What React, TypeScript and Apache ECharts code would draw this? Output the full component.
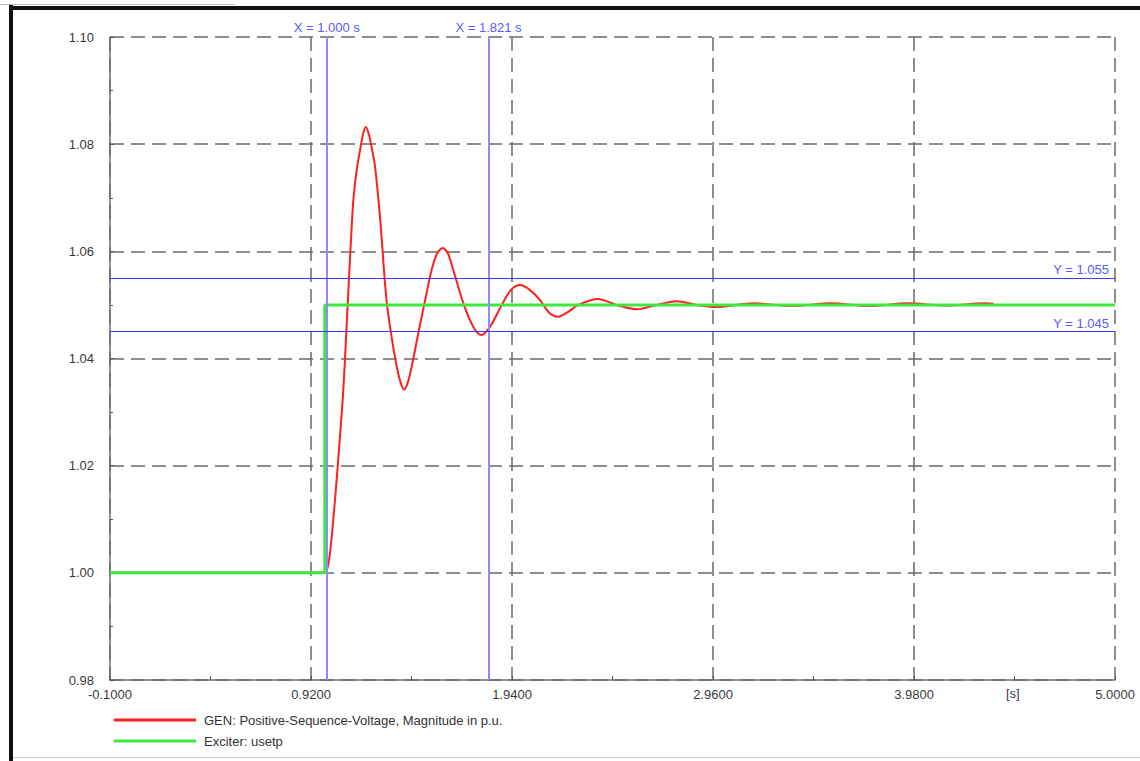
import React, { useEffect, useRef } from "react";
import * as echarts from "echarts";

// Time axis (s) and values (p.u.)
const xMin = -0.1;
const xMax = 5.0;
const xStep = 1.02;
const yMin = 0.98;
const yMax = 1.1;
const yStep = 0.02;

const redName = "GEN: Positive-Sequence-Voltage, Magnitude in p.u.";
const greenName = "Exciter: usetp";

const redT = [
  -0.1, 0.995, 1.0, 1.016, 1.033, 1.05, 1.067, 1.084, 1.098, 1.106, 1.12, 1.135, 1.152, 1.169,
  1.185, 1.199, 1.215, 1.23, 1.245, 1.27, 1.303, 1.33, 1.355, 1.375, 1.393, 1.411, 1.431,
  1.465, 1.497, 1.532, 1.56, 1.588, 1.615, 1.642, 1.696, 1.744, 1.783, 1.828, 1.888, 1.935,
  1.981, 2.03, 2.082, 2.13, 2.175, 2.225, 2.277, 2.375, 2.471, 2.573, 2.674, 2.776, 2.877,
  2.97, 3.17, 3.36, 3.56, 3.75, 3.95, 4.14, 4.34, 4.385,
];
const redV = [
  1.0, 1.0, 1.0003, 1.0036, 1.0099, 1.0173, 1.0254, 1.0341, 1.044, 1.05, 1.0601, 1.0696,
  1.0752, 1.0789, 1.082, 1.0832, 1.0816, 1.079, 1.0758, 1.0665, 1.0509, 1.0438, 1.0385,
  1.0355, 1.0342, 1.0355, 1.0385, 1.0448, 1.0505, 1.0565, 1.0596, 1.0606, 1.0596, 1.0565,
  1.05, 1.0459, 1.0444, 1.0459, 1.05, 1.0528, 1.0537, 1.0528, 1.0509, 1.0485, 1.0478,
  1.0487, 1.05, 1.0511, 1.05, 1.0492, 1.05, 1.0507, 1.05, 1.0496, 1.0503, 1.0498, 1.0503,
  1.0498, 1.0503, 1.0499, 1.0503, 1.0502,
];

const greenT = [-0.1, 0.99, 0.99, 5.0];
const greenV = [1.0, 1.0, 1.05, 1.05];

const cursorX = [1.0, 1.821];
const cursorY = [1.055, 1.045];

const FONT = "Liberation Sans, Arial, sans-serif";

export default function App() {
  const ref = useRef<HTMLDivElement>(null);

  useEffect(() => {
    document.body.style.margin = "0";
    if (!ref.current) return;
    const chart = echarts.init(ref.current, null, { renderer: "svg" });

    const redData = redT.map((t, i) => [t, redV[i]]);
    const greenData = greenT.map((t, i) => [t, greenV[i]]);

    const gridLine = { color: "#6a6a6a", width: 1.5, type: [14, 7] as any };

    const option: any = {
      animation: false,
      backgroundColor: "#ffffff",
      grid: { left: 110, top: 37, right: 25, bottom: 81 },
      xAxis: {
        type: "value",
        min: xMin,
        max: xMax,
        interval: xStep,
        axisLine: { show: true, onZero: false, lineStyle: { color: "#6e6e6e", width: 1.5 } },
        axisTick: { show: true, inside: true, length: 4, lineStyle: { color: "#555" } },
        minorTick: { show: true, splitNumber: 2, length: 4, lineStyle: { color: "#555" } },
        splitLine: { show: true, lineStyle: gridLine },
        axisLabel: {
          color: "#3a3a3a",
          fontFamily: FONT,
          fontSize: 13,
          margin: 8,
          showMinLabel: true,
          showMaxLabel: true,
          formatter: (v: number) => v.toFixed(4),
        },
      },
      yAxis: {
        type: "value",
        min: yMin,
        max: yMax,
        interval: yStep,
        axisLine: { show: true, onZero: false, lineStyle: { color: "#6e6e6e", width: 1.5 } },
        axisTick: { show: true, inside: true, length: 4, lineStyle: { color: "#555" } },
        minorTick: { show: true, splitNumber: 2, length: 3, lineStyle: { color: "#555" } },
        splitLine: { show: true, lineStyle: gridLine },
        axisLabel: {
          color: "#3a3a3a",
          fontFamily: FONT,
          fontSize: 13,
          margin: 16,
          formatter: (v: number) => v.toFixed(2),
        },
      },
      legend: {
        orient: "vertical",
        left: 109,
        top: 708,
        itemWidth: 82,
        itemHeight: 3,
        itemGap: 7,
        icon: "rect",
        textStyle: {
          fontFamily: FONT,
          fontSize: 13,
          color: "#333",
          padding: [0, 0, 0, 3],
          lineHeight: 14,
        },
        data: [redName, greenName],
      },
      series: [
        {
          name: redName,
          type: "line",
          data: redData,
          showSymbol: false,
          symbol: "none",
          smooth: 0.3,
          color: "#ff1f1f",
          lineStyle: { color: "#ff1f1f", width: 2 },
          z: 2,
        },
        {
          name: greenName,
          type: "line",
          data: greenData,
          showSymbol: false,
          symbol: "none",
          color: "#3ee83e",
          lineStyle: { color: "#3ee83e", width: 3 },
          z: 3,
          markLine: {
            silent: true,
            symbol: "none",
            animation: false,
            precision: 4,
            data: [
              ...cursorX.map((x) => ({
                xAxis: x,
                lineStyle: { color: "#8c8cff", width: 2, type: "solid" },
                label: {
                  show: true,
                  position: "end",
                  distance: 3,
                  color: "#5a5aff",
                  fontFamily: FONT,
                  fontSize: 13,
                  formatter: () => "X = " + x.toFixed(3) + " s",
                },
              })),
              ...cursorY.map((y) => ({
                yAxis: y,
                lineStyle: { color: "#3a3aff", width: 1.2, type: "solid" },
                label: {
                  show: true,
                  position: "insideEndTop",
                  distance: [6, 2],
                  color: "#5a5aff",
                  fontFamily: FONT,
                  fontSize: 13,
                  formatter: () => "Y = " + y.toFixed(3),
                },
              })),
            ],
          },
        },
      ],
      graphic: [
        { type: "rect", left: 9, top: 5, shape: { width: 4, height: 756 }, style: { fill: "#111" }, silent: true },
        { type: "rect", left: 9, top: 6, shape: { width: 1131, height: 4 }, style: { fill: "#111" }, silent: true },
        { type: "rect", left: 0, top: 4, shape: { width: 235, height: 1 }, style: { fill: "#bbb" }, silent: true },
        { type: "rect", left: 13, top: 757, shape: { width: 1127, height: 1 }, style: { fill: "#cfcfcf" }, silent: true },
        {
          type: "text",
          left: 1006,
          top: 687,
          style: { text: "[s]", fill: "#3a3a3a", font: "13px " + FONT },
          silent: true,
        },
      ],
    };

    chart.setOption(option);
    return () => chart.dispose();
  }, []);

  return (
    <div
      ref={ref}
      style={{ position: "fixed", left: 0, top: 0, width: 1140, height: 761 }}
    />
  );
}
